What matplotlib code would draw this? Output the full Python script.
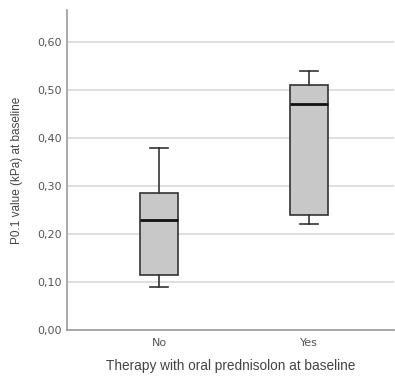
import matplotlib
matplotlib.use('Agg')
import matplotlib.pyplot as plt
from matplotlib.ticker import FuncFormatter

groups = ['No', 'Yes']
whisker_low = [0.09, 0.22]
q1 = [0.115, 0.24]
median = [0.23, 0.47]
q3 = [0.285, 0.51]
whisker_high = [0.38, 0.54]
yticks = [0.0, 0.1, 0.2, 0.3, 0.4, 0.5, 0.6]

stats = []
for i, g in enumerate(groups):
    stats.append({'label': g, 'whislo': whisker_low[i], 'q1': q1[i], 'med': median[i],
                  'q3': q3[i], 'whishi': whisker_high[i], 'fliers': []})

fig = plt.figure(figsize=(3.95, 3.81), dpi=100)
ax = fig.add_axes([0.1696, 0.1339, 0.8279, 0.8399])

ax.bxp(stats, positions=[0, 1], widths=0.25, patch_artist=True, showfliers=False,
       boxprops=dict(facecolor='#c8c8c8', edgecolor='#333333', linewidth=1.2),
       medianprops=dict(color='#111111', linewidth=2),
       whiskerprops=dict(color='#333333', linewidth=1.2),
       capprops=dict(color='#333333', linewidth=1.2), capwidths=0.12, zorder=3)

ax.set_xlim(-0.613, 1.567)
ax.set_ylim(0, 0.6667)
ax.set_yticks(yticks)
ax.yaxis.set_major_formatter(FuncFormatter(lambda v, p: ('%.2f' % v).replace('.', ',')))
ax.grid(axis='y', color='#d9d9d9', linewidth=1.2, zorder=0)
ax.set_axisbelow(True)

for s in ['top', 'right']:
    ax.spines[s].set_visible(False)
for s in ['left', 'bottom']:
    ax.spines[s].set_color('#9a9a9a')
    ax.spines[s].set_linewidth(1.2)

ax.tick_params(length=0, labelsize=8, labelcolor='#555555')
ax.tick_params(axis='y', pad=4)
ax.tick_params(axis='x', pad=6)

ax.set_xlabel('Therapy with oral prednisolon at baseline', family='Liberation Sans',
              fontsize=9.8, color='#444444', labelpad=8)
ax.set_ylabel('P0.1 value (kPa) at baseline', family='Liberation Sans',
              fontsize=8.5, color='#444444', labelpad=10)

fig.savefig('out.png', dpi=100)
